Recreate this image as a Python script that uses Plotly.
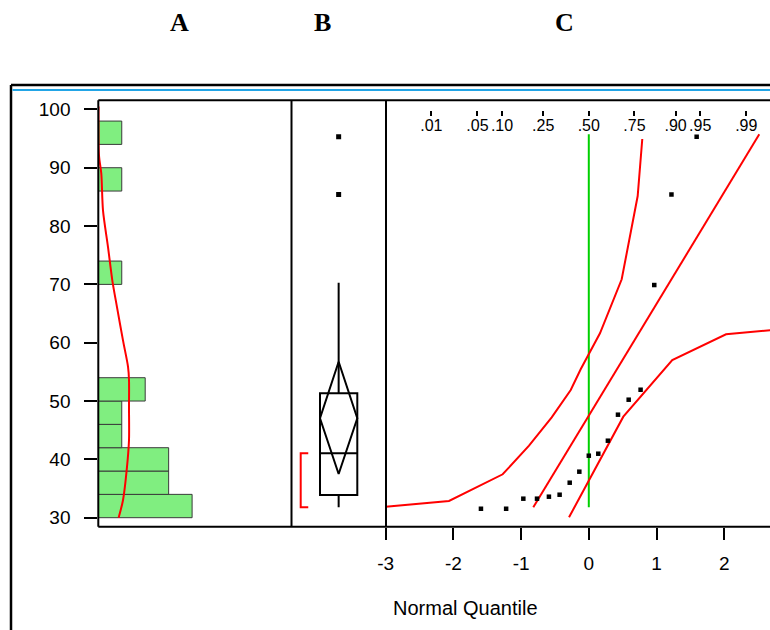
import plotly.graph_objects as go

W, H = 770, 630

# ---------------- data ----------------
# Histogram (panel A): bin centers (width 4) and counts
bin_centers = [32, 36, 40, 44, 48, 52, 72, 88, 96]
bin_counts = [4, 3, 3, 1, 1, 2, 1, 1, 1]
bin_width = 4

# Fitted normal density curve in the histogram (value, height in counts)
curve_values = [30.0, 33.0, 38.7, 43.3, 49.0, 53.6, 55.9, 60.4, 66.1, 70.7, 76.4, 82.7, 89.0, 92.1, 100.5]
curve_counts = [0.866, 1.053, 1.224, 1.309, 1.309, 1.309, 1.267, 1.053, 0.797, 0.597, 0.414, 0.200, 0.128, 0.030, 0.010]

# Box plot (panel B)
box_q1, box_median, box_q3 = 33.89, 41.04, 51.33
box_lower, box_upper = 31.78, 70.29
outliers = [95.32, 85.41]
mean_value, mean_ci_low, mean_ci_high = 47.04, 37.49, 56.74
shortest_half = [31.78, 41.04]

# Normal quantile plot (panel C)
normal_quantiles = [-1.593, -1.221, -0.967, -0.765, -0.589, -0.431, -0.282, -0.140, 0.0,
                    0.140, 0.282, 0.431, 0.589, 0.765, 0.967, 1.221, 1.593]
sorted_values = [31.54, 31.54, 33.26, 33.26, 33.60, 33.94, 36.00, 37.89, 40.63,
                 40.97, 43.20, 47.66, 50.23, 51.94, 69.89, 85.41, 95.32]
fit_line_z = [-0.820, 2.518]
fit_line_v = [31.78, 95.73]
median_line_v = [31.78, 95.73]
upper_band_z = [-3.0, -2.065, -1.272, -0.883, -0.548, -0.267, -0.120, 0.165, 0.486, 0.722, 0.790]
upper_band_v = [31.89, 32.86, 37.44, 42.34, 47.21, 51.89, 55.44, 61.61, 70.87, 85.15, 94.92]
lower_band_z = [-0.292, 0.510, 1.233, 2.027, 2.700]
lower_band_v = [30.07, 47.32, 57.04, 61.44, 62.18]

y_ticks = [30, 40, 50, 60, 70, 80, 90, 100]
x_ticks = [-3, -2, -1, 0, 1, 2]
prob_ticks_z = [-2.326, -1.645, -1.282, -0.674, 0.0, 0.674, 1.282, 1.645, 2.326]
prob_labels = [".01", ".05", ".10", ".25", ".50", ".75", ".90", ".95", ".99"]

# ---------------- geometry helpers ----------------
def px(x):
    return x / W

def py(y):
    return 1 - y / H

LEFT, DIV1, DIV2 = 98.3, 291.5, 386.0
TOP, BOT = 100.3, 526.8
RED = "#FF0000"
GREEN = "#00D000"
FONT = "Liberation Sans, Arial, sans-serif"

fig = go.Figure()

# Panel A: histogram
fig.add_trace(go.Bar(
    y=bin_centers, x=bin_counts, width=bin_width, orientation="h",
    marker=dict(color="#80EE80", line=dict(color="#3a3a3a", width=1)),
    xaxis="x", yaxis="y", showlegend=False, hoverinfo="skip"))
fig.add_trace(go.Scatter(
    x=curve_counts, y=curve_values, mode="lines",
    line=dict(color=RED, width=2, shape="spline", smoothing=0.8),
    xaxis="x", yaxis="y", showlegend=False))

# Panel B: box plot
fig.add_trace(go.Box(
    x=[0], q1=[box_q1], median=[box_median], q3=[box_q3],
    lowerfence=[box_lower], upperfence=[box_upper],
    width=2, whiskerwidth=0, boxpoints=False,
    line=dict(color="black", width=2), fillcolor="rgba(0,0,0,0)",
    xaxis="x2", yaxis="y", showlegend=False))
fig.add_trace(go.Scatter(
    x=[0] * len(outliers), y=outliers, mode="markers",
    marker=dict(symbol="square", size=5, color="black"),
    xaxis="x2", yaxis="y", showlegend=False))
fig.add_trace(go.Scatter(
    x=[0, 1, 0, -1, 0], y=[mean_ci_high, mean_value, mean_ci_low, mean_value, mean_ci_high],
    mode="lines", line=dict(color="black", width=2),
    xaxis="x2", yaxis="y", showlegend=False))
fig.add_trace(go.Scatter(
    x=[-1.63, -2.035, -2.035, -1.63],
    y=[shortest_half[1], shortest_half[1], shortest_half[0], shortest_half[0]],
    mode="lines", line=dict(color=RED, width=2),
    xaxis="x2", yaxis="y", showlegend=False))

# Panel C: normal quantile plot
fig.add_trace(go.Scatter(
    x=[0, 0], y=median_line_v, mode="lines", line=dict(color=GREEN, width=2),
    xaxis="x3", yaxis="y", showlegend=False))
fig.add_trace(go.Scatter(
    x=upper_band_z, y=upper_band_v, mode="lines", line=dict(color=RED, width=2),
    xaxis="x3", yaxis="y", showlegend=False))
fig.add_trace(go.Scatter(
    x=lower_band_z, y=lower_band_v, mode="lines", line=dict(color=RED, width=2),
    xaxis="x3", yaxis="y", showlegend=False))
fig.add_trace(go.Scatter(
    x=fit_line_z, y=fit_line_v, mode="lines", line=dict(color=RED, width=2),
    xaxis="x3", yaxis="y", showlegend=False))
fig.add_trace(go.Scatter(
    x=normal_quantiles, y=sorted_values, mode="markers",
    marker=dict(symbol="square", size=4.5, color="black"),
    xaxis="x3", yaxis="y", showlegend=False))
# invisible carrier trace for the probability axis
fig.add_trace(go.Scatter(
    x=prob_ticks_z, y=[None] * len(prob_ticks_z), mode="markers",
    marker=dict(opacity=0), xaxis="x4", yaxis="y", showlegend=False, hoverinfo="skip"))

# y range so that 30 -> 517.7px and 100 -> 109.4px
ppu = (517.7 - 109.4) / 70
y_lo = 30 - (BOT - 517.7) / ppu
y_hi = 100 + (109.4 - TOP) / ppu

z_ppu = 67.7
z_left = 385.7
z_hi = -3 + (W - z_left) / z_ppu

count_ppu = 23.45
box_c, box_hw = 338.65, 18.65

hidden = dict(showgrid=False, zeroline=False, showticklabels=False, ticks="", showline=False)

fig.update_layout(
    width=W, height=H,
    margin=dict(l=0, r=0, t=0, b=0, pad=0, autoexpand=False),
    paper_bgcolor="white", plot_bgcolor="rgba(0,0,0,0)",
    font=dict(family=FONT, color="black"),
    showlegend=False,
    xaxis=dict(domain=[px(LEFT), px(DIV1)], range=[0, (DIV1 - LEFT) / count_ppu], anchor="y", **hidden),
    xaxis2=dict(domain=[px(DIV1), px(DIV2)], range=[(DIV1 - box_c) / box_hw, (DIV2 - box_c) / box_hw],
                anchor="y", type="linear", **hidden),
    xaxis3=dict(domain=[px(z_left), 1.0], range=[-3, z_hi], anchor="y",
                tickvals=x_ticks, ticktext=[str(v) for v in x_ticks],
                ticks="outside", ticklen=12, tickwidth=2, tickcolor="black",
                ticklabelstandoff=7,
                tickfont=dict(size=19, family=FONT, color="black"),
                showgrid=False, zeroline=False, showline=False, automargin=False),
    xaxis4=dict(overlaying="x3", anchor="free", position=py(110), side="bottom",
                range=[-3, z_hi], tickvals=prob_ticks_z, ticktext=prob_labels,
                ticks="outside", ticklen=5, tickwidth=2, tickcolor="black",
                ticklabelstandoff=-4,
                tickfont=dict(size=16, family=FONT, color="black"),
                showgrid=False, zeroline=False, showline=False, automargin=False),
    yaxis=dict(domain=[py(BOT), py(TOP)], range=[y_lo, y_hi], anchor="x",
               tickvals=y_ticks, ticks="outside", ticklen=13, tickwidth=2, tickcolor="black",
               ticklabelstandoff=10,
               tickfont=dict(size=19, family=FONT, color="black"),
               showgrid=False, zeroline=False, showline=False, automargin=False),
)

shapes = []
def line(x0, y0, x1, y1, color="black", width=2):
    shapes.append(dict(type="line", xref="paper", yref="paper",
                       x0=px(x0), y0=py(y0), x1=px(x1), y1=py(y1),
                       line=dict(color=color, width=width)))

# outer frame
line(11, 85, 11, 640, width=2.5)
line(11, 85, 790, 85, width=2.5)
line(12.5, 90, 790, 90, color="#22A5E6", width=2)
# panel frame
line(LEFT, TOP, 790, TOP)
line(LEFT, BOT, 790, BOT)
line(LEFT, TOP, LEFT, BOT)
line(DIV1, TOP, DIV1, BOT)
line(DIV2, TOP, DIV2, BOT)
fig.update_layout(shapes=shapes)

annotations = []
for txt, xx in [("A", 179), ("B", 322), ("C", 564)]:
    annotations.append(dict(text="<b>%s</b>" % txt, x=px(xx), y=py(23), xref="paper", yref="paper",
                            showarrow=False, xanchor="center", yanchor="middle",
                            font=dict(family="Liberation Serif, Times New Roman, serif", size=26, color="black")))
annotations.append(dict(text="Normal Quantile", x=px(465), y=py(608), xref="paper", yref="paper",
                        showarrow=False, xanchor="center", yanchor="middle",
                        font=dict(family=FONT, size=20, color="black")))
fig.update_layout(annotations=annotations)

fig.write_html("out.html")
